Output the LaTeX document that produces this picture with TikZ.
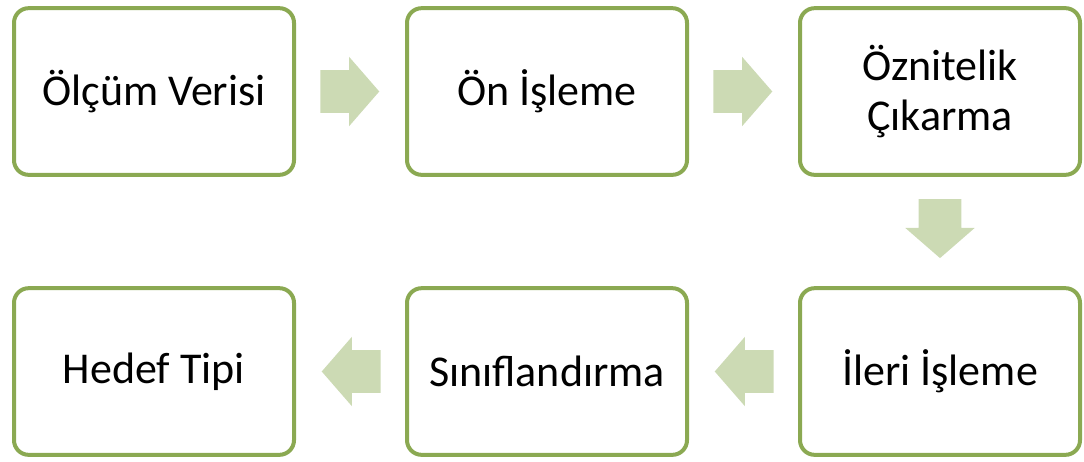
\documentclass[tikz,border=0pt]{standalone}
\usepackage{fontspec}
\setmainfont{Carlito}
\usetikzlibrary{positioning,shapes.arrows,calc}

\definecolor{boxgreen}{RGB}{139,169,82}
\definecolor{arrowgreen}{RGB}{204,218,180}

\tikzset{
  stagebox/.style={draw=boxgreen, line width=3pt, rounded corners=11pt, fill=white,
    minimum width=210pt, minimum height=125pt, align=center,
    font=\fontsize{33}{38}\selectfont},
  blockarrow/.style={single arrow, fill=arrowgreen, draw=none, inner xsep=0pt,
    inner ysep=15.75pt, single arrow head extend=10.1pt, minimum height=44.25pt,
    single arrow tip angle=98, anchor=tail}
}

\begin{document}
\begin{tikzpicture}[x=0.75pt,y=-0.75pt]

        \useasboundingbox (0,0) rectangle (1084,461);

        % top row
        \node[stagebox] (olcum) at (154,91.5) {Ölçüm Verisi};
        \node[stagebox] (onisleme) at (547,91.5) {Ön İşleme};
        \node[stagebox] (oznitelik) at (940,91.5) {Öznitelik\\Çıkarma};

        % bottom row
        \node[stagebox] (ileri) at (940,371.5) {İleri İşleme};
        \node[stagebox] (sinif) at (547,371.5) {Sınıflandırma};
        \node[stagebox] (hedef) at (154,371.5) {Hedef Tipi};

        % arrows between the steps
        \node[blockarrow] (ok1) at ($(olcum.east)+(24,0)$) {};
        \node[blockarrow] (ok2) at ($(onisleme.east)+(24,0)$) {};
        \node[blockarrow, rotate=-90] (ok3) at ($(oznitelik.south)+(0,22)$) {};
        \node[blockarrow, rotate=180] (ok4) at ($(ileri.west)+(-24,0)$) {};
        \node[blockarrow, rotate=180] (ok5) at ($(sinif.west)+(-24,0)$) {};

\end{tikzpicture}
\end{document}
